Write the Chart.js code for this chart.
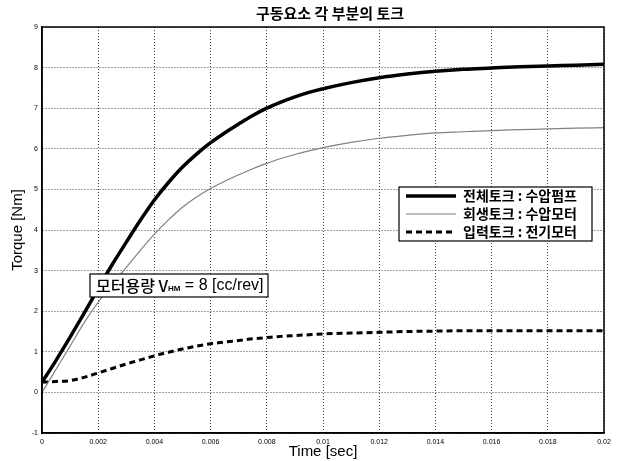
<!DOCTYPE html>
<html>
<head>
<meta charset="utf-8">
<script src="https://cdn.jsdelivr.net/npm/chart.js@4/dist/chart.umd.min.js"></script>
<style>
html,body{margin:0;padding:0;background:#fff;}
#wrap{width:617px;height:461px;position:relative;}
</style>
</head>
<body>
<div id="wrap"><canvas id="c" width="617" height="461"></canvas></div>
<script>
// ---- data ----
const chartTitle = "구동요소 각 부분의 토크";
const xTitle = "Time [sec]";
const yTitle = "Torque [Nm]";
const seriesNames = ["전체토크 : 수압펌프", "회생토크 : 수압모터", "입력토크 : 전기모터"];
const noteMain = "모터용량 V";
const noteSub = "HM";
const noteTail = " = 8 [cc/rev]";

const times = [0, 0.0005, 0.001, 0.0015, 0.002, 0.0025, 0.003, 0.0035, 0.004, 0.0045, 0.005,
               0.0055, 0.006, 0.0065, 0.007, 0.0075, 0.008, 0.0085, 0.009, 0.0095, 0.010,
               0.011, 0.012, 0.013, 0.014, 0.015, 0.016, 0.017, 0.018, 0.019, 0.020];
const totalTorque = [0.25, 0.79, 1.36, 1.95, 2.56, 3.15, 3.70, 4.24, 4.74, 5.17, 5.55,
                     5.87, 6.15, 6.39, 6.61, 6.82, 7.00, 7.15, 7.28, 7.39, 7.48,
                     7.63, 7.75, 7.84, 7.91, 7.96, 7.99, 8.02, 8.04, 8.06, 8.08];
const regenTorque = [0, 0.57, 1.14, 1.72, 2.22, 2.66, 3.08, 3.50, 3.90, 4.25, 4.56,
                     4.81, 5.02, 5.20, 5.36, 5.51, 5.64, 5.76, 5.86, 5.95, 6.03,
                     6.16, 6.26, 6.33, 6.39, 6.42, 6.45, 6.47, 6.49, 6.51, 6.52];
const inputTorque = [0.25, 0.27, 0.29, 0.37, 0.48, 0.59, 0.70, 0.80, 0.90, 0.99, 1.07,
                     1.14, 1.20, 1.24, 1.28, 1.32, 1.35, 1.38, 1.40, 1.42, 1.44,
                     1.46, 1.48, 1.50, 1.51, 1.52, 1.52, 1.52, 1.52, 1.52, 1.52];

const xMin = 0, xMax = 0.02, xStep = 0.002;
const yMin = -1, yMax = 9, yStep = 1;

const pts = arr => times.map((t, i) => ({x: t, y: arr[i]}));
const FONT = "'Liberation Sans', Arial, sans-serif";
const KFONT = "'Noto Sans CJK KR', 'Noto Sans', sans-serif";

const overlay = {
  id: 'overlay',
  beforeDraw(chart) {
    const ctx = chart.ctx;
    ctx.save();
    ctx.fillStyle = '#fff';
    ctx.fillRect(0, 0, chart.width, chart.height);
    ctx.restore();
  },
  afterDatasetsDraw(chart) {
    const ctx = chart.ctx;
    const a = chart.chartArea;
    ctx.save();
    // plot frame
    ctx.strokeStyle = '#000';
    ctx.lineWidth = 1.5;
    ctx.strokeRect(a.left, a.top, a.right - a.left, a.bottom - a.top);
    // title
    ctx.fillStyle = '#000';
    ctx.font = "bold 15px " + KFONT;
    ctx.textAlign = 'center';
    ctx.textBaseline = 'middle';
    ctx.fillText(chartTitle, 330, 13);

    // legend box
    const lx = 399, ly = 187, lw = 193, lh = 54;
    ctx.fillStyle = '#fff';
    ctx.fillRect(lx, ly, lw, lh);
    ctx.strokeStyle = '#000';
    ctx.lineWidth = 1.2;
    ctx.strokeRect(lx, ly, lw, lh);
    const ds = chart.data.datasets;
    ds.forEach((d, i) => {
      const yy = ly + 9 + i * 18;
      ctx.save();
      ctx.strokeStyle = d.borderColor;
      ctx.lineWidth = d.borderWidth;
      ctx.setLineDash(d.borderDash || []);
      ctx.beginPath();
      ctx.moveTo(lx + 7, yy);
      ctx.lineTo(lx + 57, yy);
      ctx.stroke();
      ctx.restore();
      ctx.fillStyle = '#000';
      ctx.font = "bold 14px " + KFONT;
      ctx.textAlign = 'left';
      ctx.textBaseline = 'middle';
      ctx.fillText(d.label, lx + 64, yy);
    });

    // annotation box
    const bx = 90, by = 274, bw = 178, bh = 23;
    ctx.fillStyle = '#fff';
    ctx.fillRect(bx, by, bw, bh);
    ctx.strokeStyle = '#000';
    ctx.lineWidth = 1.2;
    ctx.strokeRect(bx, by, bw, bh);
    ctx.fillStyle = '#000';
    ctx.textAlign = 'left';
    ctx.textBaseline = 'middle';
    let tx = bx + 6;
    const ty = by + bh / 2 + 0.5;
    ctx.font = "500 16px " + KFONT;
    ctx.fillText(noteMain, tx, ty);
    tx += ctx.measureText(noteMain).width;
    ctx.font = "bold 8px " + FONT;
    ctx.fillText(noteSub, tx, ty + 3);
    tx += ctx.measureText(noteSub).width;
    ctx.font = "16px " + FONT;
    ctx.fillText(noteTail, tx, ty);
    ctx.restore();
  }
};

new Chart(document.getElementById('c'), {
  type: 'line',
  data: {
    datasets: [
      {label: seriesNames[0], data: pts(totalTorque), borderColor: '#000', borderWidth: 3.5,
       pointRadius: 0, cubicInterpolationMode: 'monotone', fill: false},
      {label: seriesNames[1], data: pts(regenTorque), borderColor: '#808080', borderWidth: 1.2,
       pointRadius: 0, cubicInterpolationMode: 'monotone', fill: false},
      {label: seriesNames[2], data: pts(inputTorque), borderColor: '#000', borderWidth: 3,
       borderDash: [6, 4], pointRadius: 0, cubicInterpolationMode: 'monotone', fill: false}
    ]
  },
  options: {
    responsive: false,
    animation: false,
    events: [],
    layout: {padding: {top: 27, right: 13, bottom: 0, left: 0}},
    plugins: {legend: {display: false}, title: {display: false}, tooltip: {enabled: false}},
    scales: {
      x: {
        type: 'linear', min: xMin, max: xMax,
        afterFit: s => { s.height = 28; },
        ticks: {stepSize: xStep, color: '#000', font: {family: FONT, size: 7}, padding: 5,
                maxRotation: 0, autoSkip: false,
                callback: v => String(parseFloat(v.toFixed(4)))},
        grid: {color: '#444', lineWidth: 1, drawTicks: false},
        border: {display: true, color: '#000', width: 1.5, dash: [1, 2]},
        title: {display: true, text: xTitle, color: '#000', font: {family: FONT, size: 15}, padding: {top: 0, bottom: 0}}
      },
      y: {
        type: 'linear', min: yMin, max: yMax,
        afterFit: s => { s.width = 42; },
        ticks: {stepSize: yStep, color: '#000', font: {family: FONT, size: 7}, padding: 4},
        grid: {color: '#444', lineWidth: 1, drawTicks: false},
        border: {display: true, color: '#000', width: 1.5, dash: [1, 2]},
        title: {display: true, text: yTitle, color: '#000', font: {family: FONT, size: 15}, padding: {top: 9, bottom: 0}}
      }
    }
  },
  plugins: [overlay]
});
</script>
</body>
</html>
